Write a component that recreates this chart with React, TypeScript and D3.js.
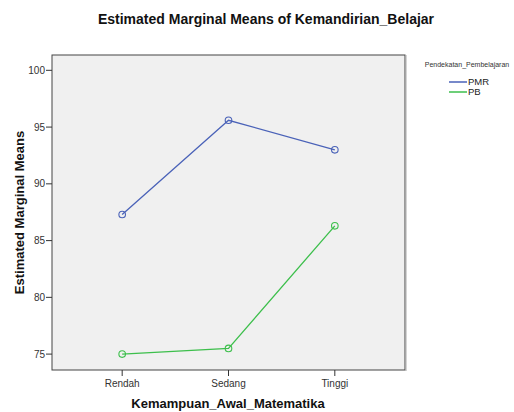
import React from "react";
import * as d3 from "d3";

const categories = ["Rendah", "Sedang", "Tinggi"];
const pmrValues = [87.3, 95.6, 93.0];
const pbValues = [75.0, 75.5, 86.3];
const yTicks = [75, 80, 85, 90, 95, 100];
const seriesNames = ["PMR", "PB"];
const seriesColors = ["#4a62b8", "#3dbf4c"];

const W = 514;
const H = 412;
const plot = { left: 52, top: 55, right: 405, bottom: 370 };
const FONT = "'Liberation Sans', Arial, sans-serif";

export default function App() {
  const x = d3
    .scalePoint<string>()
    .domain(categories)
    .range([plot.left, plot.right])
    .padding(0.66);
  const y = d3.scaleLinear().domain([73.6, 101.35]).range([plot.bottom, plot.top]);
  const line = d3
    .line<number>()
    .x((_, i) => x(categories[i]) as number)
    .y((d) => y(d));
  const series = [pmrValues, pbValues];

  return (
    <svg
      width={W}
      height={H}
      style={{ position: "absolute", left: 0, top: 0, background: "#fff" }}
    >
      <text
        x={266}
        y={24}
        textAnchor="middle"
        fontFamily={FONT}
        fontWeight="bold"
        fontSize={14}
        fill="#111"
      >
        Estimated Marginal Means of Kemandirian_Belajar
      </text>
      <rect
        x={plot.left}
        y={plot.top}
        width={plot.right - plot.left}
        height={plot.bottom - plot.top}
        fill="#f0f0f0"
        stroke="#444"
        strokeWidth={1}
      />
      <line
        x1={plot.right + 1}
        x2={plot.right + 1}
        y1={plot.top}
        y2={plot.bottom + 1}
        stroke="#aaa"
        strokeWidth={1}
      />
      {yTicks.map((t) => (
        <g key={t}>
          <line x1={plot.left - 6} x2={plot.left} y1={y(t)} y2={y(t)} stroke="#333" />
          <text
            x={plot.left - 7}
            y={y(t)}
            dy="0.35em"
            textAnchor="end"
            fontFamily={FONT}
            fontSize={10}
            fill="#333"
          >
            {t}
          </text>
        </g>
      ))}
      {categories.map((c) => (
        <g key={c}>
          <line
            x1={x(c)}
            x2={x(c)}
            y1={plot.bottom}
            y2={plot.bottom + 6}
            stroke="#333"
          />
          <text
            x={x(c)}
            y={plot.bottom + 17}
            textAnchor="middle"
            fontFamily={FONT}
            fontSize={10}
            fill="#333"
          >
            {c}
          </text>
        </g>
      ))}
      {series.map((vals, si) => (
        <g key={si}>
          <path
            d={line(vals) as string}
            fill="none"
            stroke={seriesColors[si]}
            strokeWidth={1.3}
          />
          {vals.map((v, i) => (
            <circle
              key={i}
              cx={x(categories[i])}
              cy={y(v)}
              r={3.3}
              fill="none"
              stroke={seriesColors[si]}
              strokeWidth={1.1}
            />
          ))}
        </g>
      ))}
      <text
        x={228}
        y={408}
        textAnchor="middle"
        fontFamily={FONT}
        fontWeight="bold"
        fontSize={13}
        fill="#111"
      >
        Kemampuan_Awal_Matematika
      </text>
      <text
        transform={`translate(24, ${(plot.top + plot.bottom) / 2}) rotate(-90)`}
        textAnchor="middle"
        fontFamily={FONT}
        fontWeight="bold"
        fontSize={13}
        fill="#111"
      >
        Estimated Marginal Means
      </text>
      <text
        x={467}
        y={67}
        textAnchor="middle"
        fontFamily={FONT}
        fontSize={7}
        fill="#333"
      >
        Pendekatan_Pembelajaran
      </text>
      {seriesNames.map((n, i) => (
        <g key={n}>
          <line
            x1={449}
            x2={467}
            y1={82 + i * 10}
            y2={82 + i * 10}
            stroke={seriesColors[i]}
            strokeWidth={1.5}
          />
          <text
            x={468}
            y={82 + i * 10}
            dy="0.35em"
            fontFamily={FONT}
            fontSize={9.5}
            fill="#222"
          >
            {n}
          </text>
        </g>
      ))}
    </svg>
  );
}
